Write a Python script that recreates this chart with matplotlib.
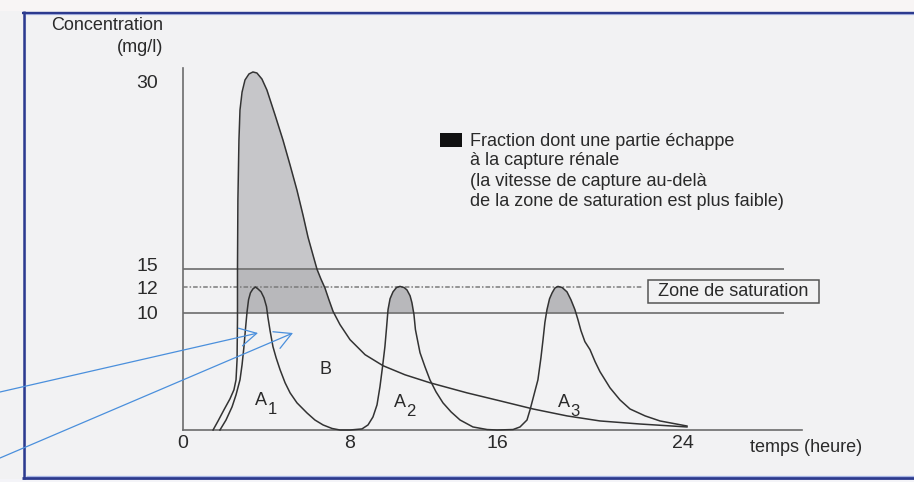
import numpy as np
import matplotlib
matplotlib.use("Agg")
import matplotlib.pyplot as plt
import matplotlib.transforms as mtransforms
from matplotlib.patches import Rectangle, FancyArrowPatch
from matplotlib.lines import Line2D

plt.rcParams['font.family'] = ['Liberation Sans', 'DejaVu Sans']

W, H = 914, 482

# ---------------- data ----------------
# Curve B (single high dose), time in hours, concentration in mg/l
b_time = [1.44, 1.68, 1.96, 2.25, 2.44, 2.54, 2.59, 2.61, 2.61, 2.63, 2.68, 2.73,
          2.83, 2.97, 3.16, 3.35, 3.54, 3.78, 4.02, 4.41, 4.79, 5.13, 5.46, 5.75,
          5.99, 6.23, 6.42, 6.61, 6.80, 6.99, 7.19, 7.52, 8.00, 8.82, 9.80, 10.99,
          12.35, 14.37, 16.13, 17.55, 19.01, 20.43, 22.15, 24.17]
b_conc = [0.0, 0.77, 1.71, 2.65, 3.42, 4.27, 5.98, 9.40, 15.0, 20.51, 25.29, 27.69,
          29.12, 30.08, 30.56, 30.72, 30.64, 30.16, 29.28, 27.29, 25.29, 23.30, 21.30, 19.31,
          17.55, 16.12, 15.0, 13.33, 11.92, 11.0, 10.08, 8.97, 7.69, 6.41, 5.47, 4.70,
          4.02, 3.16, 2.48, 1.79, 1.20, 0.77, 0.51, 0.26]

# Curve A (three repeated doses A1, A2, A3)
a_time = [1.77, 2.06, 2.35, 2.54, 2.73, 2.83, 2.92, 2.99, 3.07, 3.14, 3.23, 3.35,
          3.47, 3.59, 3.74, 3.88, 4.00, 4.07, 4.17, 4.31, 4.46, 4.65, 4.89, 5.13,
          5.46, 5.94, 6.32, 6.71, 7.14, 7.52, 8.00,
          8.65, 8.98, 9.25, 9.47, 9.63, 9.77, 9.90, 9.99, 10.07, 10.18, 10.34, 10.53,
          10.72, 10.94, 11.10, 11.27, 11.37, 11.48, 11.56, 11.70, 11.81, 12.08, 12.35, 12.68,
          13.06, 13.50, 13.99, 14.69, 15.46, 16.00, 16.69,
          16.99, 17.29, 17.42, 17.59, 17.76, 17.89, 17.98, 18.06, 18.15, 18.26, 18.37, 18.49,
          18.62, 18.80, 19.01, 19.18, 19.35, 19.48, 19.61, 19.78, 20.00, 20.22, 20.43, 20.86,
          21.29, 21.72, 22.37, 23.01, 24.17]
a_conc = [0.0, 0.85, 1.97, 2.99, 4.27, 5.56, 7.09, 8.55, 10.08, 11.0, 11.54, 11.85,
          12.0, 11.85, 11.62, 11.15, 10.46, 9.57, 8.46, 7.09, 6.15, 5.13, 4.02, 3.16,
          2.31, 1.45, 0.85, 0.43, 0.13, 0.0, 0.0,
          0.09, 0.43, 1.11, 2.14, 3.68, 5.38, 7.09, 8.72, 10.23, 11.08, 11.62, 11.96,
          12.1, 11.96, 11.77, 11.31, 10.77, 9.83, 8.55, 7.44, 6.58, 5.38, 4.27, 3.25,
          2.31, 1.54, 0.85, 0.26, 0.04, 0.0, 0.04,
          0.26, 0.85, 1.71, 2.99, 4.27, 6.15, 7.69, 9.15, 10.23, 11.08, 11.54, 11.92,
          12.1, 11.96, 11.62, 11.0, 10.23, 9.40, 8.46, 7.52, 6.84, 5.81, 4.96, 3.59,
          2.56, 1.79, 1.20, 0.77, 0.34]

sat_low, sat_mid, sat_high = 10, 12, 15

x_ticks = [0, 8, 16, 24]
x_tick_labels = ['0', '8', '16', '24']
y_ticks = [10, 12, 15, 30]
y_tick_labels = ['10', '12', '15', '30']
x_title = 'temps (heure)'
y_title = ['Concentration', '(mg/l)']
legend_lines = ['Fraction dont une partie échappe',
                'à la capture rénale',
                '(la vitesse de capture au-delà',
                'de la zone de saturation est plus faible)']
zone_label = 'Zone de saturation'
peak_names = ['1', '2', '3']

# ---------------- drawing scales (schematic, piecewise) ----------------
X_H = np.array([-20.0, 0, 8, 16, 24, 40])
X_PX = np.array([-234.5, 183, 350, 497, 683, 1055])
Y_V = np.array([-20.0, 0, 10, 12, 15, 30, 50])
Y_PX = np.array([-182.0, 52, 169.5, 195, 212.7, 401, 651.7])


def fx(v):
    return np.interp(np.asarray(v, dtype=float), X_H, X_PX)


def fx_inv(p):
    return np.interp(np.asarray(p, dtype=float), X_PX, X_H)


def fy(v):
    return np.interp(np.asarray(v, dtype=float), Y_V, Y_PX)


def fy_inv(p):
    return np.interp(np.asarray(p, dtype=float), Y_PX, Y_V)


def fp(x, y):
    """pixel (from top-left) -> figure fraction"""
    return x / W, 1 - y / H


bg = '#f2f2f3'
fig = plt.figure(figsize=(W / 100, H / 100), dpi=100, facecolor=bg)

# decorative background strips / border
fig.add_artist(Rectangle(fp(0, 11), 1, 11 / H, transform=fig.transFigure,
                         color='#f8f5f5', lw=0, zorder=0))
fig.add_artist(Rectangle((0, 0), 1, 3 / H, transform=fig.transFigure,
                         color='#f4f4f8', lw=0, zorder=0))
navy = '#2c3a8e'
for (x0, y0, x1, y1, c, lw) in [
        (24, 14.3, W, 14.3, '#b4c0ea', 0.9),
        (25.3, 15, 25.3, 476, '#c4cdee', 0.8),
        (26, 475.7, W, 475.7, '#a8b6e6', 0.9),
        (22, 12.5, W, 12.5, navy, 1.7),
        (23.5, 11, 23.5, 479, navy, 1.8),
        (22, 477.6, W, 477.6, navy, 2.0)]:
    a, b = fp(x0, y0)
    c2, d = fp(x1, y1)
    fig.add_artist(Line2D([a, c2], [b, d], transform=fig.transFigure, color=c, lw=lw,
                          solid_capstyle='butt', zorder=1))

ax = fig.add_axes([0, 0, 1, 1])
ax.set_xscale('function', functions=(fx, fx_inv))
ax.set_yscale('function', functions=(fy, fy_inv))
ax.patch.set_alpha(0)

bt, bc = np.array(b_time), np.array(b_conc)
at, ac = np.array(a_time), np.array(a_conc)

band_col = '#b8b8bb'
top_col = '#c6c6c9'
for t, c in [(bt, bc), (at, ac)]:
    ax.fill_between(t, sat_low, np.minimum(c, sat_high), where=c >= sat_low,
                    interpolate=True, color=band_col, lw=0, zorder=2)
    ax.fill_between(t, sat_high, c, where=c >= sat_high,
                    interpolate=True, color=top_col, lw=0, zorder=2)

grey = '#6c6c6c'
ax.hlines([sat_low, sat_high], 0, 28.34, colors=grey, lw=1.2, zorder=3)
ax.plot([0, 22.28], [sat_mid, sat_mid], color='#7a7a7a', lw=1.1,
        ls=(0, (3, 1.3, 1, 1.3)), zorder=3)

line_col = '#333333'
ax.plot(bt, bc, color=line_col, lw=1.1, zorder=4)
ax.plot(at, ac, color=line_col, lw=1.1, zorder=4)

# axes
for s in ['top', 'right']:
    ax.spines[s].set_visible(False)
ax.spines['left'].set_position(('data', 0))
ax.spines['bottom'].set_position(('data', 0))
ax.spines['left'].set_bounds(0, 31.0)
ax.spines['bottom'].set_bounds(0, 29.12)
for s in ['left', 'bottom']:
    ax.spines[s].set_color(grey)
    ax.spines[s].set_linewidth(1.2)

ax.set_xticks(x_ticks, x_tick_labels)
ax.set_yticks(y_ticks, y_tick_labels)
ax.tick_params(axis='x', length=0, pad=3.5, labelsize=14, labelcolor='#2a2a2a')
ax.tick_params(axis='y', length=0, pad=18, labelsize=14, labelcolor='#2a2a2a')
ax.minorticks_off()
ax.set_xlim(fx_inv(0), fx_inv(W))
ax.set_ylim(fy_inv(0), fy_inv(H))
for lbl in ax.get_yticklabels():
    if lbl.get_text() == '15':
        lbl.set_transform(lbl.get_transform() +
                          mtransforms.ScaledTranslation(0, 0.05, fig.dpi_scale_trans))

txt_col = '#2a2a2a'
fs = 13
# axis titles
fig.text(*fp(163, 25), y_title[0], ha='right', va='center', fontsize=fs, color=txt_col)
fig.text(*fp(163, 47), y_title[1], ha='right', va='center', fontsize=fs, color=txt_col)
fig.text(*fp(750, 447), x_title, ha='left', va='center', fontsize=fs, color=txt_col)

# peak labels (A with offset index, B)
peak_pos = [(3.74, 2.48), (10.72, 2.31), (18.88, 2.31)]
for (px_, py_), n in zip(peak_pos, peak_names):
    ax.text(px_, py_, 'A', ha='center', va='center', fontsize=fs, color=txt_col, zorder=5)
    ax.annotate(n, (px_, py_), xytext=(8, -6), textcoords='offset points',
                ha='center', va='center', fontsize=fs - 1, color=txt_col, zorder=5)
ax.text(6.85, 5.13, 'B', ha='center', va='center', fontsize=fs, color=txt_col, zorder=5)

# legend
fig.add_artist(Rectangle(fp(440, 147), 22 / W, 14 / H, transform=fig.transFigure,
                         color='#111111', lw=0))
for yy, s in zip([141, 160.5, 181, 201], legend_lines):
    fig.text(*fp(470, yy), s, ha='left', va='center', fontsize=fs, color=txt_col)

# saturation zone box
fig.add_artist(Rectangle(fp(648, 303), 171 / W, 23 / H, transform=fig.transFigure,
                         fill=False, ec='#555555', lw=1.1))
fig.text(*fp(733.5, 291.5), zone_label, ha='center', va='center', fontsize=fs,
         color=txt_col)

# blue pointer arrows
for (x0, y0), (x1, y1) in [((0, 392), (258, 333)), ((0, 458), (293, 333))]:
    arr = FancyArrowPatch(fp(x0, y0), fp(x1, y1), transform=fig.transFigure,
                          arrowstyle='->,head_length=1.2,head_width=0.65',
                          mutation_scale=10, color='#4a8fdc', lw=0.9,
                          shrinkA=0, shrinkB=0, zorder=6)
    fig.add_artist(arr)

fig.savefig('out.png', dpi=100, facecolor=bg)
